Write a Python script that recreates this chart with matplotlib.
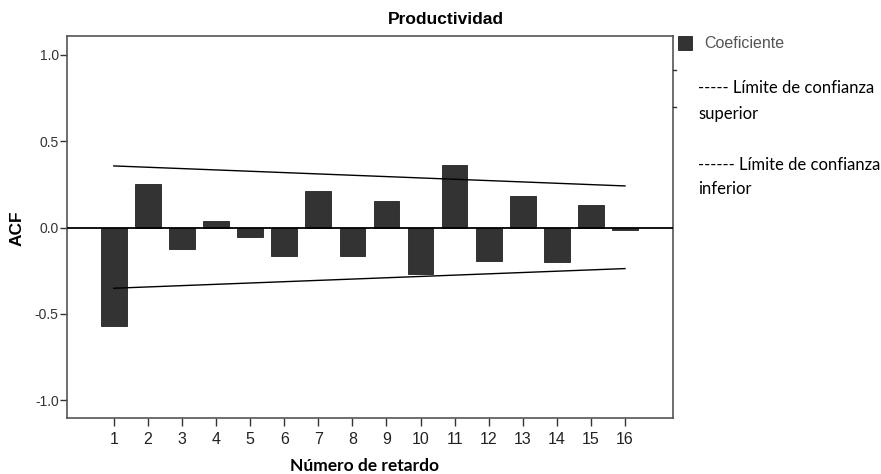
import matplotlib
matplotlib.use("Agg")
import matplotlib.pyplot as plt
from matplotlib.lines import Line2D
from matplotlib.patches import Rectangle
from matplotlib import font_manager

# Autocorrelation coefficients by lag
lags = list(range(1, 17))
acf = [-0.572, 0.255, -0.124, 0.037, -0.056, -0.164, 0.212, -0.164,
       0.152, -0.267, 0.363, -0.194, 0.181, -0.199, 0.131, -0.016]

# Confidence limits (straight lines from first to last lag)
conf_lags = [1, 16]
conf_upper = [0.357, 0.241]
conf_lower = [-0.352, -0.238]

y_ticks = [1.0, 0.5, 0.0, -0.5, -1.0]
y_tick_labels = ["1.0", "0.5", "0.0", "-0.5", "-1.0"]

available = {f.name for f in font_manager.fontManager.ttflist}
narrow = "Liberation Sans Narrow" if "Liberation Sans Narrow" in available else "Liberation Sans"

W, H = 881, 474
fig = plt.figure(figsize=(W / 100, H / 100), dpi=100)
fig.patch.set_facecolor("white")

ax = fig.add_axes([67 / W, 1 - 418 / H, (672.7 - 67) / W, (418 - 36) / H])

ax.bar(lags, acf, width=0.754, color="#333333", edgecolor="#222222",
       linewidth=0.6, zorder=2)
ax.axhline(0, color="black", linewidth=1.3, zorder=3)
ax.plot(conf_lags, conf_upper, color="black", linewidth=1.0, zorder=4)
ax.plot(conf_lags, conf_lower, color="black", linewidth=1.0, zorder=4)

ax.set_xlim(-0.373, 17.40)
ax.set_ylim(-1.104, 1.110)

ax.set_xticks(lags)
ax.set_xticklabels([str(l) for l in lags], fontsize=11.5,
                   family=narrow, color="#222222")
ax.set_yticks(y_ticks)
ax.set_yticklabels(y_tick_labels, fontsize=10,
                   family="Liberation Sans", color="#333333")
ax.tick_params(axis="x", direction="out", length=6, width=1.0,
               color="#333333", pad=4)
ax.tick_params(axis="y", direction="out", length=5, width=1.0,
               color="#333333", pad=1)

for side in ["left", "right", "top", "bottom"]:
    ax.spines[side].set_color("#555555")
    ax.spines[side].set_linewidth(1.2)

# Axis titles
fig.text(17 / W, 1 - 228 / H, "ACF", rotation=90, ha="center", va="center",
         fontsize=12.5, fontweight="bold", family="Liberation Sans")
fig.text(365 / W, 1 - 466 / H, "Número de retardo", ha="center", va="center",
         fontsize=12.5, fontweight="bold", family="Lato")

fig.text(446 / W, 1 - 20 / H, "Productividad", ha="center", va="center",
         fontsize=12.5, fontweight="bold", family="Liberation Sans")

# Legend area
fig.patches.append(Rectangle((678 / W, 1 - 50 / H), 14 / W, 14 / H,
                             transform=fig.transFigure, facecolor="#333333",
                             edgecolor="#222222", linewidth=0.6))
fig.text(704 / W, 1 - 44 / H, "Coeficiente", ha="left", va="center",
         fontsize=11.5, family="Liberation Sans", color="#555555")

for y in (70, 107):
    fig.lines.append(Line2D([672.7 / W, 676 / W], [1 - y / H, 1 - y / H],
                            transform=fig.transFigure, color="#333333",
                            linewidth=1.0))

legend_kw = dict(ha="left", va="center", fontsize=12, family="Lato",
                 color="black")
fig.text(698 / W, 1 - 88 / H, "----- Límite de confianza", **legend_kw)
fig.text(698 / W, 1 - 114 / H, "superior", **legend_kw)
fig.text(698 / W, 1 - 165 / H, "------ Límite de confianza", **legend_kw)
fig.text(698 / W, 1 - 189 / H, "inferior", **legend_kw)

fig.savefig("out.png", dpi=100, facecolor="white")
